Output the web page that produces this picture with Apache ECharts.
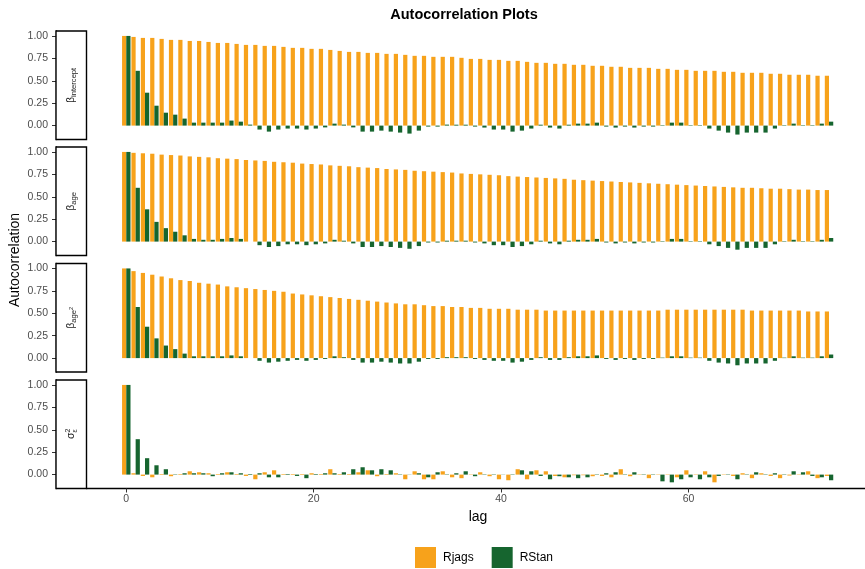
<!DOCTYPE html>
<html><head><meta charset="utf-8">
<script src="https://cdn.jsdelivr.net/npm/echarts@6/dist/echarts.min.js"></script>
<style>html,body{margin:0;padding:0;background:#fff}#c{width:865px;height:569px}</style>
</head><body><div id="c"></div>
<script>
const lags = [0,1,2,3,4,5,6,7,8,9,10,11,12,13,14,15,16,17,18,19,20,21,22,23,24,25,26,27,28,29,30,31,32,33,34,35,36,37,38,39,40,41,42,43,44,45,46,47,48,49,50,51,52,53,54,55,56,57,58,59,60,61,62,63,64,65,66,67,68,69,70,71,72,73,74,75];
const xTicks = [0,20,40,60];
const yTicks = [0,0.25,0.5,0.75,1];
const seriesNames = ['Rjags','RStan'];

const interceptRjags = [1.0,0.989,0.978,0.978,0.967,0.956,0.956,0.944,0.944,0.933,0.922,0.922,0.911,0.9,0.9,0.889,0.889,0.878,0.867,0.867,0.856,0.856,0.844,0.833,0.822,0.822,0.811,0.811,0.8,0.8,0.789,0.778,0.778,0.767,0.767,0.767,0.756,0.744,0.744,0.733,0.733,0.722,0.722,0.711,0.7,0.7,0.689,0.689,0.678,0.678,0.667,0.667,0.656,0.656,0.644,0.644,0.644,0.633,0.633,0.622,0.622,0.611,0.611,0.611,0.6,0.6,0.589,0.589,0.589,0.578,0.578,0.567,0.567,0.567,0.556,0.556];
const interceptRStan = [1.0,0.611,0.367,0.222,0.144,0.122,0.078,0.033,0.033,0.033,0.033,0.056,0.044,0.011,-0.044,-0.067,-0.044,-0.033,-0.033,-0.044,-0.033,-0.02,0.022,0.011,-0.02,-0.067,-0.067,-0.056,-0.067,-0.078,-0.089,-0.056,-0.011,-0.011,0.011,0.01,0.01,-0.011,-0.022,-0.044,-0.044,-0.067,-0.056,-0.033,0.01,-0.022,-0.033,0.01,0.022,0.022,0.033,-0.011,-0.022,-0.011,-0.022,-0.011,-0.011,0.005,0.033,0.033,0.005,0.005,-0.033,-0.056,-0.078,-0.1,-0.078,-0.078,-0.078,-0.033,0.005,0.022,0.005,0.005,0.022,0.044];

const ageRjags = [1.0,0.99,0.985,0.98,0.97,0.965,0.96,0.95,0.945,0.94,0.93,0.925,0.92,0.91,0.905,0.9,0.89,0.885,0.88,0.87,0.865,0.86,0.85,0.845,0.84,0.83,0.825,0.82,0.81,0.805,0.8,0.79,0.785,0.78,0.775,0.77,0.76,0.755,0.75,0.745,0.74,0.73,0.725,0.72,0.715,0.71,0.705,0.7,0.69,0.685,0.68,0.675,0.67,0.665,0.66,0.655,0.65,0.645,0.64,0.635,0.63,0.625,0.62,0.615,0.61,0.605,0.6,0.6,0.595,0.59,0.59,0.585,0.58,0.58,0.575,0.575];
const ageRStan = [1.0,0.6,0.36,0.22,0.15,0.11,0.07,0.03,0.02,0.02,0.03,0.04,0.03,0.0,-0.04,-0.06,-0.05,-0.03,-0.03,-0.04,-0.03,-0.02,0.02,0.01,-0.02,-0.06,-0.06,-0.05,-0.06,-0.07,-0.08,-0.05,-0.01,-0.01,0.01,0.01,0.01,-0.01,-0.02,-0.04,-0.04,-0.06,-0.05,-0.03,0.01,-0.02,-0.03,0.01,0.02,0.02,0.03,-0.01,-0.02,-0.01,-0.02,-0.01,-0.01,0.005,0.03,0.03,0.005,0.005,-0.03,-0.05,-0.07,-0.09,-0.07,-0.07,-0.07,-0.03,0.005,0.02,0.005,0.005,0.02,0.04];

const age2Rjags = [1.0,0.97,0.95,0.93,0.91,0.89,0.87,0.86,0.84,0.83,0.82,0.8,0.79,0.78,0.77,0.76,0.75,0.74,0.72,0.71,0.7,0.69,0.68,0.67,0.66,0.65,0.64,0.63,0.62,0.61,0.6,0.6,0.59,0.58,0.58,0.57,0.57,0.56,0.56,0.55,0.55,0.55,0.54,0.54,0.54,0.53,0.53,0.53,0.53,0.53,0.53,0.53,0.53,0.53,0.53,0.53,0.53,0.53,0.54,0.54,0.54,0.54,0.54,0.54,0.54,0.54,0.54,0.53,0.53,0.53,0.53,0.53,0.53,0.52,0.52,0.52];
const age2RStan = [1.0,0.57,0.35,0.22,0.14,0.1,0.05,0.02,0.02,0.02,0.02,0.03,0.02,0.0,-0.03,-0.05,-0.04,-0.03,-0.02,-0.03,-0.02,-0.01,0.02,0.01,-0.02,-0.05,-0.05,-0.04,-0.05,-0.06,-0.06,-0.04,-0.01,-0.01,0.01,0.01,0.01,-0.01,-0.02,-0.03,-0.03,-0.05,-0.04,-0.02,0.01,-0.02,-0.02,0.01,0.02,0.02,0.03,-0.01,-0.02,-0.01,-0.02,-0.01,-0.01,0.005,0.02,0.02,0.005,0.005,-0.03,-0.05,-0.06,-0.08,-0.06,-0.06,-0.06,-0.03,0.005,0.02,0.005,0.005,0.02,0.04];

const sigmaRjags = [1.0,0.015,-0.015,-0.03,0.007,-0.018,0.007,0.037,0.026,0.015,0.007,0.026,0.007,-0.015,-0.052,0.026,0.048,0.007,0.007,0.007,0.015,0.007,0.06,0.007,0.007,0.026,0.048,-0.018,0.007,0.015,-0.052,0.037,-0.052,-0.052,0.037,-0.03,-0.04,0.004,0.026,-0.018,-0.052,-0.063,0.06,-0.052,0.048,0.037,-0.015,-0.03,-0.007,-0.007,-0.018,-0.015,-0.03,0.06,-0.018,0.004,-0.04,0.004,0.004,-0.03,0.048,0.004,0.037,-0.086,0.004,-0.015,0.015,-0.04,0.015,-0.015,-0.04,-0.01,0.004,0.037,-0.04,-0.015];
const sigmaRStan = [1.0,0.395,0.183,0.104,0.06,0.004,0.015,0.015,0.015,-0.018,0.015,0.026,0.015,0.007,0.015,-0.03,-0.03,0.007,-0.015,-0.04,0.007,0.015,0.015,0.026,0.06,0.082,0.048,0.06,0.048,0.004,0.002,0.015,-0.03,0.026,0.004,0.015,0.037,-0.018,0.004,0.004,0.002,0.004,0.048,0.037,-0.015,-0.052,-0.018,-0.03,-0.04,-0.03,0.004,0.015,0.026,0.004,0.026,0.004,0.004,-0.075,-0.086,-0.052,-0.03,-0.052,-0.03,-0.015,0.004,-0.052,0.004,0.026,0.004,0.015,0.004,0.037,0.026,-0.015,-0.03,-0.063];

const panels = [
  {rj: interceptRjags, rs: interceptRStan, label: [{t:'β',fs:10,dy:0},{t:'intercept',fs:7.6,dy:2.6}]},
  {rj: ageRjags, rs: ageRStan, label: [{t:'β',fs:10,dy:0},{t:'age',fs:7.6,dy:2.6}]},
  {rj: age2Rjags, rs: age2RStan, label: [{t:'β',fs:10,dy:0},{t:'age',fs:7.6,dy:2.6},{t:'2',fs:5.5,dy:-0.5}]},
  {rj: sigmaRjags, rs: sigmaRStan, label: [{t:'σ',fs:10.5,dy:0},{t:'2',fs:7,dy:-3.6,adv:false},{t:'ε',fs:7,dy:3.8}]}
];
const colors = ['#F7A21B','#16652F'];

const FONT = '"Liberation Sans", Arial, sans-serif';
const tops = [31, 147, 263.5, 380];
const PH = 108.5;
const GL = 86.5, GW = 782.3;

const mctx = document.createElement('canvas').getContext('2d');
function measure(t, fs) { mctx.font = fs + 'px ' + FONT; return mctx.measureText(t).width; }
function stripLabel(cy, parts) {
  let x = 0; const items = [];
  parts.forEach(p => { const w = measure(p.t, p.fs); items.push({x: x, p: p}); if (p.adv !== false) x += w; });
  const total = x;
  return {
    type: 'group', x: 71.5, y: cy, rotation: Math.PI / 2, z: 110,
    children: items.map(it => ({
      type: 'text', x: it.x - total / 2, y: it.p.dy, z: 110,
      style: { text: it.p.t, font: it.p.fs + 'px ' + FONT, fontSize: it.p.fs, fontFamily: FONT, fill: '#1a1a1a', align: 'left', verticalAlign: 'middle', textAlign: 'left', textVerticalAlign: 'middle' }
    }))
  };
}

const grids = [], xAxes = [], yAxes = [], series = [], graphics = [];
panels.forEach((p, i) => {
  grids.push({left: GL, top: tops[i], width: GW, height: PH, containLabel: false, outerBoundsMode: 'none'});
  const last = i === panels.length - 1;
  xAxes.push({
    type: 'value', gridIndex: i, min: -4.245, max: 79.245,
    splitLine: {show: false},
    axisLine: {show: last, onZero: false, lineStyle: {color: '#000', width: 1.3}},
    axisTick: {show: last, customValues: xTicks, length: 4, lineStyle: {color: '#333', width: 1}},
    axisLabel: {show: last, customValues: xTicks, color: '#4d4d4d', fontSize: 10.5, fontFamily: FONT, margin: 5}
  });
  yAxes.push({
    type: 'value', gridIndex: i, min: -0.155, max: 1.055, offset: 30.5,
    splitLine: {show: false},
    axisLine: {show: true, onZero: false, lineStyle: {color: '#000', width: 1.3}},
    axisTick: {show: true, customValues: yTicks, length: 4, lineStyle: {color: '#333', width: 1}},
    axisLabel: {show: true, customValues: yTicks, formatter: v => v.toFixed(2), color: '#4d4d4d', fontSize: 10.5, fontFamily: FONT, margin: 8}
  });
  [p.rj, p.rs].forEach((vals, k) => {
    series.push({
      type: 'bar', name: seriesNames[k], xAxisIndex: i, yAxisIndex: i,
      barWidth: 4.22, barGap: '0%',
      itemStyle: {color: colors[k]},
      data: lags.map((l, j) => [l, vals[j]])
    });
  });
  graphics.push({
    type: 'rect', z: 100,
    shape: {x: 56, y: tops[i], width: 30.5, height: PH},
    style: {fill: '#fff', stroke: '#000', lineWidth: 1.4}
  });
  graphics.push(stripLabel(tops[i] + PH / 2, p.label));
});

graphics.push({type: 'text', x: 464, y: 15, z: 110, style: {text: 'Autocorrelation Plots', font: 'bold 14.5px ' + FONT, fill: '#000', align: 'center', verticalAlign: 'middle', textAlign: 'center', textVerticalAlign: 'middle'}});
graphics.push({type: 'text', x: 15, y: 260, rotation: Math.PI / 2, z: 110, style: {text: 'Autocorrelation', font: '14px ' + FONT, fill: '#000', align: 'center', verticalAlign: 'middle', textAlign: 'center', textVerticalAlign: 'middle'}});
graphics.push({type: 'text', x: 478, y: 517, z: 110, style: {text: 'lag', font: '14px ' + FONT, fill: '#000', align: 'center', verticalAlign: 'middle', textAlign: 'center', textVerticalAlign: 'middle'}});

const chart = echarts.init(document.getElementById('c'), null, {renderer: 'canvas'});
chart.setOption({
  animation: false,
  backgroundColor: '#fff',
  grid: grids,
  xAxis: xAxes,
  yAxis: yAxes,
  series: series,
  legend: {
    data: seriesNames, left: 415, top: 547, padding: 0, itemWidth: 21, itemHeight: 21, itemGap: 18,
    icon: 'rect', textStyle: {fontSize: 12, color: '#000', fontFamily: FONT, padding: [0, 0, 0, 2]}
  },
  graphic: graphics
});
</script></body></html>
